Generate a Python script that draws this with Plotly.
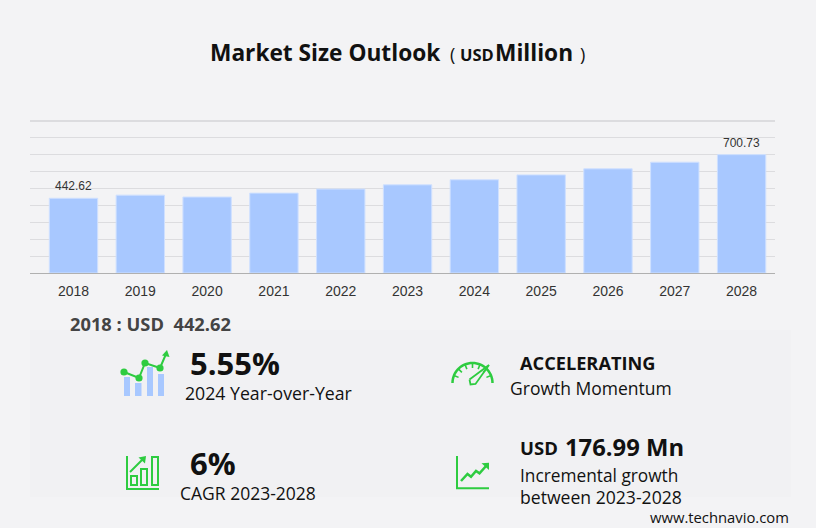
import math
import plotly.graph_objects as go

years = ["2018", "2019", "2020", "2021", "2022", "2023", "2024", "2025", "2026", "2027", "2028"]
values = [442.62, 461, 450, 473, 497, 522, 552, 581, 617, 656, 700.73]
labelled_years = ["2018", "2028"]
labelled_values = [442.62, 700.73]

W, H = 816, 528
SANS = "Open Sans"
ARIAL = "Liberation Sans"
GREEN = "#2ecc40"
BLUE = "#a8c8ff"

def X(p): return p / W
def Y(p): return 1 - p / H

fig = go.Figure(go.Bar(
    x=years, y=values, width=0.724,
    marker=dict(color=BLUE, line=dict(color="#cfe0ff", width=1)),
    hoverinfo="skip",
))

shapes = []
def line(pts, color=GREEN, width=2.5):
    d = "M" + " L".join(f"{X(a):.5f},{Y(b):.5f}" for a, b in pts)
    shapes.append(dict(type="path", path=d, xref="paper", yref="paper",
                       line=dict(color=color, width=width), layer="above"))
def rect(x0, y0, x1, y1, fill=None, lc=None, lw=0, layer="above"):
    shapes.append(dict(type="rect", xref="paper", yref="paper", x0=X(x0), x1=X(x1), y0=Y(y0), y1=Y(y1),
                       fillcolor=fill, line=dict(color=lc, width=lw), layer=layer))
def dot(cx, cy, r, fill=GREEN):
    shapes.append(dict(type="circle", xref="paper", yref="paper", x0=X(cx-r), x1=X(cx+r), y0=Y(cy+r), y1=Y(cy-r),
                       fillcolor=fill, line=dict(width=0), layer="above"))
def tri(pts, fill=GREEN):
    d = "M" + " L".join(f"{X(a):.5f},{Y(b):.5f}" for a, b in pts) + " Z"
    shapes.append(dict(type="path", path=d, xref="paper", yref="paper", fillcolor=fill,
                       line=dict(width=0), layer="above"))

# lower panel
rect(30, 330, 791, 497, fill="#f1f1f3", layer="below")
# top rule of plot
line([(30, 121), (775, 121)], color="#dcdcdf", width=2)

# icon 1: bars and trend
for x0, y0, x1 in [(124, 377, 130), (135, 383, 141.5), (147, 367, 153), (158, 374, 164)]:
    rect(x0, y0, x1, 396, fill=BLUE)
line([(124, 372), (139, 378), (145, 363), (160, 368), (166, 354)], width=2)
for cx, cy in [(124, 372), (139, 378), (145, 363), (160, 368)]:
    dot(cx, cy, 3.6)
tri([(167, 350), (169.5, 357), (162, 355.5)])

# icon 2: CAGR bars
line([(127, 456), (127, 489), (159, 489)], width=2)
rect(131, 476, 137, 485, lc=GREEN, lw=2)
rect(141, 469, 147, 485, lc=GREEN, lw=2)
rect(152, 457, 158, 485, lc=GREEN, lw=2)
line([(130, 472), (143, 459)], width=2)
tri([(146, 456), (145, 463.5), (138.5, 457.5)])

# icon 3: gauge
cx, cy, r = 472.5, 383, 20
line([(cx + r * math.cos(math.radians(a)), cy - r * math.sin(math.radians(a))) for a in range(0, 181, 6)], width=2.5)
for a in [22, 45, 68, 90, 112, 135, 158]:
    c, s = math.cos(math.radians(a)), math.sin(math.radians(a))
    line([(cx + r * c, cy - r * s), (cx + (r - 5) * c, cy - (r - 5) * s)], width=1.6)
line([(469.5, 379.5), (489, 365), (475.5, 384), (470.5, 384.5), (469.5, 379.5)], width=1.8)

# icon 4: growth line
line([(457, 456), (457, 488.3), (489, 488.3)], width=2)
line([(461, 481), (467.5, 474), (471, 476.7), (476, 471), (479.5, 473.3), (486.5, 465.5)], width=2.5)
tri([(489, 462.7), (489, 470), (481.5, 463.3)])

def txt(x, y, s, size, color="#111111", family=SANS, anchor="left"):
    return dict(x=X(x - 2), y=Y(y), xref="paper", yref="paper", text=s, showarrow=False,
                xanchor=anchor, yanchor="middle", align="left",
                font=dict(family=family, size=size, color=color))

annotations = [
    txt(210, 52, "<b>Market Size Outlook</b>", 22.7),
    txt(450, 54, "(", 18),
    txt(460, 55, "<b>USD</b>", 16.5),
    txt(495, 52, "<b>Million</b>", 22.7),
    txt(580, 54, ")", 18),
    txt(70, 323, "<b>2018 : USD  442.62</b>", 18.3, color="#444444"),
    txt(190, 363, "<b>5.55%</b>", 31),
    txt(185, 393, "2024 Year-over-Year", 17.7),
    txt(190, 463, "<b>6%</b>", 31),
    txt(180, 493, "CAGR 2023-2028", 17.5),
    txt(520, 363, "<b>ACCELERATING</b>", 18.2),
    txt(510, 388, "Growth Momentum", 17.5),
    txt(520, 447, "<b>USD</b>", 18.5),
    txt(565, 447, "<b>176.99 Mn</b>", 23.8),
    txt(520, 475, "Incremental growth", 17.3),
    txt(520, 497, "between 2023-2028", 17.6),
    txt(650, 517, "www.technavio.com", 14.8),
]
for yr, val in zip(labelled_years, labelled_values):
    annotations.append(dict(x=years.index(yr), y=val, xref="x", yref="y", text=f"{val:.2f}", showarrow=False,
                            yanchor="middle", yshift=12,
                            font=dict(family=ARIAL, size=12, color="#333333")))

fig.update_layout(
    width=W, height=H, margin=dict(l=0, r=0, t=0, b=0), autosize=False,
    paper_bgcolor="#f3f3f5", plot_bgcolor="rgba(0,0,0,0)",
    showlegend=False, shapes=shapes, annotations=annotations,
    xaxis=dict(domain=[X(30), X(775)], type="category", categoryorder="array", categoryarray=years,
               range=[-0.651, 10.5], showgrid=False, ticks="", showline=True, linecolor="#b0b0b0", linewidth=1,
               tickfont=dict(family=ARIAL, size=14, color="#333333"), fixedrange=True, ticklabelstandoff=5),
    yaxis=dict(domain=[Y(273), Y(121)], range=[0, 900], dtick=100, showticklabels=False, ticks="",
               gridcolor="#dcdcdf", gridwidth=1, zeroline=False, fixedrange=True),
)
fig.write_html("out.html", config={"displayModeBar": False},
               post_script="document.body.style.margin='0';document.documentElement.style.background='#f3f3f5';")
